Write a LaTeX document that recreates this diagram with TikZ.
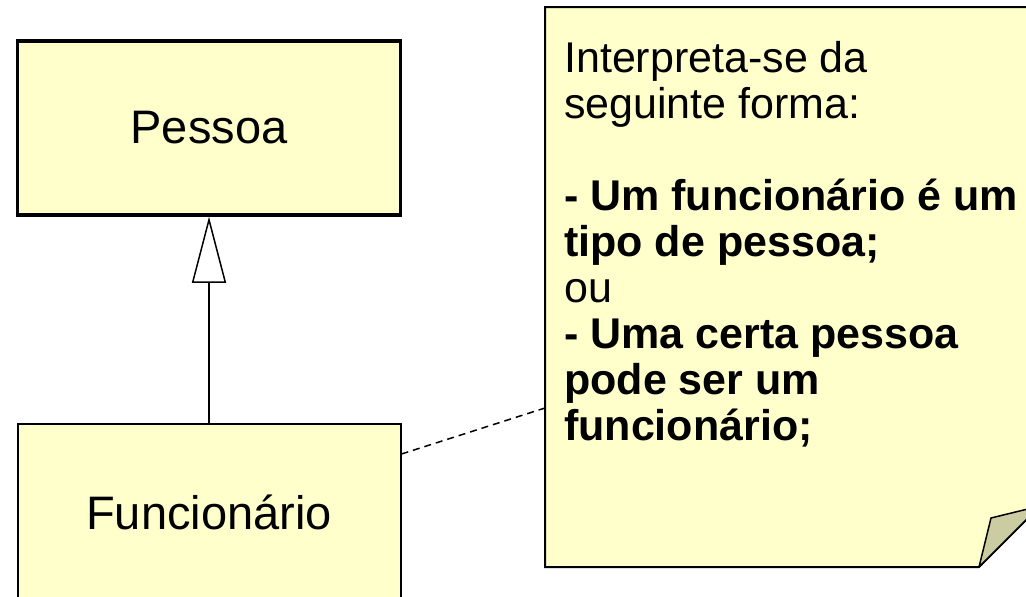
\documentclass[tikz,border=0pt]{standalone}
\usepackage{fontspec}
\setmainfont{Liberation Sans}
\usetikzlibrary{arrows.meta,positioning}

\definecolor{postit}{HTML}{FFFFCC}
\definecolor{dobra}{HTML}{CCCCA3}

\begin{document}
\begin{tikzpicture}[x=1pt, y=-1pt, node distance=384pt]
            \clip (0,0) rectangle (1026,597);

            \node (Pessoa) [draw, line width=3.5pt, fill=postit, minimum width=383pt,
            minimum height=174pt, font=\fontsize{47}{52}\selectfont] at (209,128) {Pessoa};
            \node (Func)   [draw, line width=2pt, fill=postit, minimum width=383pt,
            minimum height=176pt, below of=Pessoa, font=\fontsize{47}{52}\selectfont] {Funcionário};

            \path (Func) edge [line width=1.5pt, -{Triangle[open, length=66pt 0, width=34pt 0]}] (Pessoa);

            % nota
            \draw[line width=2pt, fill=postit] (545,7) -- (1040,7) -- (1040,506) -- (979,567) -- (545,567) -- cycle;
            \draw[line width=1.5pt, fill=dobra, line join=round] (979,567) -- (991,518) -- (1040,506) -- cycle;
            \coordinate (NotaW) at (545,408);
            \node (Texto) [anchor=north west, align=left, inner sep=0pt,
            font=\fontsize{43}{46}\selectfont] at (564,41)
            {Interpreta-se da\\seguinte forma:\\[46pt]
            \textbf{- Um funcionário é um}\\\textbf{tipo de pessoa;}\\ou\\
            \textbf{- Uma certa pessoa}\\\textbf{pode ser um}\\\textbf{funcionário;}};

            \path ([yshift=-31pt]Func.north east) edge [line width=1.5pt, dash pattern=on 7pt off 5pt] (NotaW);
\end{tikzpicture}
\end{document}
